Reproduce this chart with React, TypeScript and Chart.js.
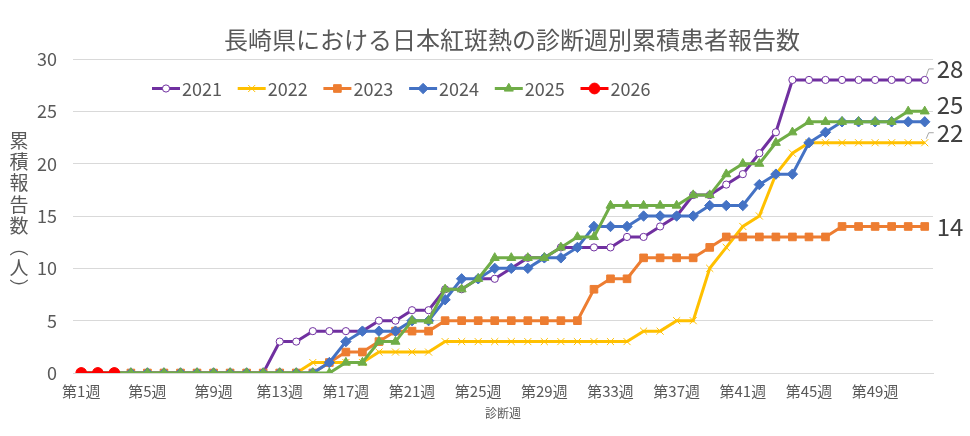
import React, { useEffect, useRef } from 'react';
import { Chart, registerables } from 'chart.js';
import { drawPoint } from 'chart.js/helpers';

Chart.register(...registerables);

const weeks = [
  '第1週', '第2週', '第3週', '第4週', '第5週', '第6週', '第7週', '第8週', '第9週', '第10週',
  '第11週', '第12週', '第13週', '第14週', '第15週', '第16週', '第17週', '第18週', '第19週', '第20週',
  '第21週', '第22週', '第23週', '第24週', '第25週', '第26週', '第27週', '第28週', '第29週', '第30週',
  '第31週', '第32週', '第33週', '第34週', '第35週', '第36週', '第37週', '第38週', '第39週', '第40週',
  '第41週', '第42週', '第43週', '第44週', '第45週', '第46週', '第47週', '第48週', '第49週', '第50週',
  '第51週', '第52週',
];

const yTicks = [0, 5, 10, 15, 20, 25, 30];

const s2021 = [0, 0, 0, 0, 0, 0, 0, 0, 0, 0, 0, 0, 3, 3, 4, 4, 4, 4, 5, 5, 6, 6, 8, 8, 9, 9, 10, 11, 11, 12, 12, 12, 12, 13, 13, 14, 15, 17, 17, 18, 19, 21, 23, 28, 28, 28, 28, 28, 28, 28, 28, 28];
const s2022 = [0, 0, 0, 0, 0, 0, 0, 0, 0, 0, 0, 0, 0, 0, 1, 1, 1, 1, 2, 2, 2, 2, 3, 3, 3, 3, 3, 3, 3, 3, 3, 3, 3, 3, 4, 4, 5, 5, 10, 12, 14, 15, 19, 21, 22, 22, 22, 22, 22, 22, 22, 22];
const s2023 = [0, 0, 0, 0, 0, 0, 0, 0, 0, 0, 0, 0, 0, 0, 0, 1, 2, 2, 3, 4, 4, 4, 5, 5, 5, 5, 5, 5, 5, 5, 5, 8, 9, 9, 11, 11, 11, 11, 12, 13, 13, 13, 13, 13, 13, 13, 14, 14, 14, 14, 14, 14];
const s2024 = [0, 0, 0, 0, 0, 0, 0, 0, 0, 0, 0, 0, 0, 0, 0, 1, 3, 4, 4, 4, 5, 5, 7, 9, 9, 10, 10, 10, 11, 11, 12, 14, 14, 14, 15, 15, 15, 15, 16, 16, 16, 18, 19, 19, 22, 23, 24, 24, 24, 24, 24, 24];
const s2025 = [0, 0, 0, 0, 0, 0, 0, 0, 0, 0, 0, 0, 0, 0, 0, 0, 1, 1, 3, 3, 5, 5, 8, 8, 9, 11, 11, 11, 11, 12, 13, 13, 16, 16, 16, 16, 16, 17, 17, 19, 20, 20, 22, 23, 24, 24, 24, 24, 24, 24, 25, 25];
const s2026 = [0, 0, 0];

const seriesNames = ['2021', '2022', '2023', '2024', '2025', '2026'];
const seriesData = [s2021, s2022, s2023, s2024, s2025, s2026];

const FONT = "'Noto Sans CJK JP', 'Noto Sans', sans-serif";
const TEXT = '#595959';

const styles = [
  { color: '#7030A0', point: 'circle', r: 3.6, fill: '#FFFFFF', bw: 1 },
  { color: '#FFC000', point: 'crossRot', r: 5, fill: '#FFC000', bw: 1 },
  { color: '#ED7D31', point: 'rect', r: 5.4, fill: '#ED7D31', bw: 1 },
  { color: '#4472C4', point: 'rectRot', r: 5.2, fill: '#4472C4', bw: 1 },
  { color: '#70AD47', point: 'triangle', r: 5.2, fill: '#70AD47', bw: 1 },
  { color: '#FF0000', point: 'circle', r: 5.4, fill: '#FF0000', bw: 1 },
];

// end-of-line labels: series index, vertical offset, leader line
const endLabels = [
  { idx: 0, dy: -11, leader: true },
  { idx: 4, dy: -6, leader: false },
  { idx: 1, dy: -10, leader: true },
  { idx: 2, dy: 0, leader: false },
];

const overlayPlugin = {
  id: 'overlay',
  afterDatasetsDraw(chart: any) {
    const ctx = chart.ctx;
    ctx.save();
    ctx.font = `24px ${FONT}`;
    ctx.fillStyle = '#404040';
    ctx.textAlign = 'left';
    ctx.textBaseline = 'middle';
    endLabels.forEach((l) => {
      const meta = chart.getDatasetMeta(l.idx);
      const data = seriesData[l.idx];
      const pt = meta.data[data.length - 1];
      if (!pt) return;
      const ly = pt.y + l.dy;
      ctx.fillText(String(data[data.length - 1]), pt.x + 12, ly);
      if (l.leader) {
        ctx.strokeStyle = '#A6A6A6';
        ctx.lineWidth = 1;
        ctx.beginPath();
        ctx.moveTo(pt.x + 1.5, pt.y - 4);
        ctx.lineTo(pt.x + 4, ly);
        ctx.lineTo(pt.x + 9, ly);
        ctx.stroke();
      }
    });
    ctx.restore();
  },
  afterDraw(chart: any) {
    const ctx = chart.ctx;
    const area = chart.chartArea;
    ctx.save();
    // title
    ctx.fillStyle = TEXT;
    ctx.font = `24px ${FONT}`;
    ctx.textAlign = 'center';
    ctx.textBaseline = 'middle';
    ctx.fillText('長崎県における日本紅斑熱の診断週別累積患者報告数', 512, 40);

    // x axis title
    ctx.font = `12px ${FONT}`;
    ctx.fillText('診断週', (area.left + area.right) / 2, 413);

    // y axis title (vertical)
    ctx.font = `19px ${FONT}`;
    const chars = ['累', '積', '報', '告', '数', '︵', '人', '︶'];
    chars.forEach((c, i) => ctx.fillText(c, 19, 141 + i * 21.1));

    // legend
    const x0 = 152;
    const pitch = 85.7;
    const ly = 88.5;
    seriesNames.forEach((name, i) => {
      const st = styles[i];
      const x = x0 + i * pitch;
      ctx.strokeStyle = st.color;
      ctx.lineWidth = 3;
      ctx.beginPath();
      ctx.moveTo(x, ly);
      ctx.lineTo(x + 28, ly);
      ctx.stroke();
      ctx.fillStyle = st.fill;
      ctx.strokeStyle = st.color;
      ctx.lineWidth = st.bw;
      drawPoint(ctx, { pointStyle: st.point, radius: st.r, borderWidth: st.bw, rotation: 0 } as any, x + 14, ly);
      ctx.fillStyle = TEXT;
      ctx.font = `18px ${FONT}`;
      ctx.textAlign = 'left';
      ctx.textBaseline = 'middle';
      ctx.fillText(name, x + 30, ly + 1);
    });
    ctx.restore();
  },
};

export default function App() {
  const ref = useRef<HTMLCanvasElement | null>(null);

  useEffect(() => {
    if (!ref.current) return;
    const datasets = seriesNames.map((name, i) => ({
      label: name,
      data: seriesData[i],
      borderColor: styles[i].color,
      backgroundColor: styles[i].color,
      borderWidth: 3,
      pointStyle: styles[i].point as any,
      pointRadius: styles[i].r,
      pointBackgroundColor: styles[i].fill,
      pointBorderColor: styles[i].color,
      pointBorderWidth: styles[i].bw,
      tension: 0,
      order: seriesNames.length - i,
    }));
    const chart = new Chart(ref.current, {
      type: 'line',
      data: { labels: weeks, datasets },
      options: {
        responsive: false,
        animation: false,
        devicePixelRatio: 1,
        layout: { padding: { top: 59, right: 37, bottom: 0, left: 0 } },
        plugins: {
          legend: { display: false },
          title: { display: false },
          tooltip: { enabled: false },
        },
        scales: {
          x: {
            type: 'category',
            offset: true,
            grid: { display: false, drawTicks: false },
            border: { display: true, color: '#D9D9D9' },
            ticks: {
              autoSkip: false,
              maxRotation: 0,
              minRotation: 0,
              padding: 9,
              color: TEXT,
              font: { family: FONT, size: 15 },
              callback: (_v: any, idx: number) => (idx % 4 === 0 ? weeks[idx] : ''),
            },
            afterFit: (s: any) => {
              s.height = 63;
            },
          },
          y: {
            min: 0,
            max: 30,
            afterBuildTicks: (s: any) => {
              s.ticks = yTicks.map((v) => ({ value: v }));
            },
            grid: { color: '#D9D9D9', lineWidth: 1, drawTicks: false },
            border: { display: false },
            ticks: {
              padding: 16,
              color: TEXT,
              font: { family: FONT, size: 18 },
            },
            afterFit: (s: any) => {
              s.width = 73;
            },
          },
        },
      },
      plugins: [overlayPlugin],
    });
    return () => chart.destroy();
  }, []);

  return (
    <div style={{ position: 'absolute', left: 0, top: 0, width: 970, height: 436, background: '#FFFFFF' }}>
      <canvas ref={ref} width={970} height={436} style={{ display: 'block', width: 970, height: 436 }} />
    </div>
  );
}
